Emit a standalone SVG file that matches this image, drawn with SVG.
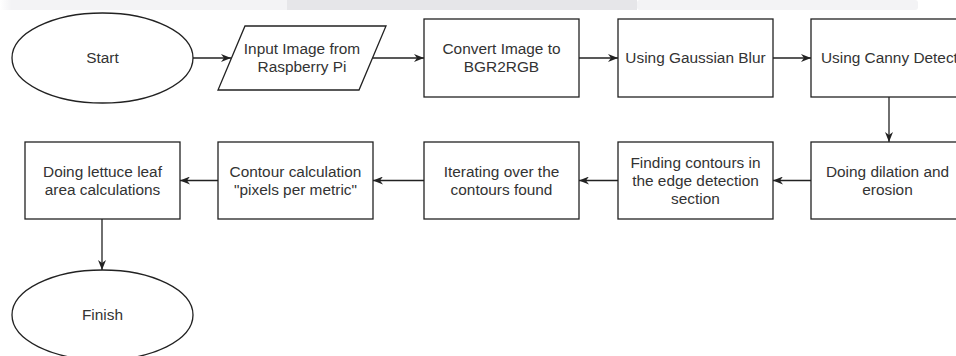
<svg xmlns="http://www.w3.org/2000/svg" width="956" height="356" viewBox="0 0 956 356">
  <style>
    .shape { fill: #ffffff; stroke: #222222; stroke-width: 1.3; }
    .edge { fill: none; stroke: #222222; stroke-width: 1.3; }
    .label { font-family: "Liberation Sans", Arial, sans-serif; font-size: 15.4px; fill: #333333; text-anchor: middle; }
  </style>
  <defs>
    <marker id="arrow" viewBox="0 0 10 8" markerWidth="10" markerHeight="8" refX="10" refY="4" orient="auto" markerUnits="userSpaceOnUse">
      <path d="M0,0 L10,4 L0,8 L3,4 Z" fill="#222222"/>
    </marker>
    <linearGradient id="bandFade" x1="0" y1="0" x2="1" y2="0">
      <stop offset="0" stop-color="#f3f3f5" stop-opacity="0"/>
      <stop offset="0.04" stop-color="#f3f3f5" stop-opacity="1"/>
      <stop offset="1" stop-color="#f3f3f5" stop-opacity="1"/>
    </linearGradient>
  </defs>

  <rect x="0" y="0" width="956" height="356" fill="#ffffff"/>

  <!-- toolbar strip along the top edge -->
  <g id="top-strip">
    <rect x="0" y="0" width="287" height="10" fill="url(#bandFade)"/>
    <rect x="287" y="0" width="350" height="10" fill="#e6e6e9"/>
    <rect x="637" y="0" width="281" height="10" rx="3" fill="#f3f3f5"/>
  </g>

  <!-- connectors -->
  <g id="connectors">
    <line class="edge" x1="193" y1="58" x2="231" y2="58" marker-end="url(#arrow)"/>
    <line class="edge" x1="373" y1="58" x2="424" y2="58" marker-end="url(#arrow)"/>
    <line class="edge" x1="579" y1="58" x2="618" y2="58" marker-end="url(#arrow)"/>
    <line class="edge" x1="773" y1="58" x2="811" y2="58" marker-end="url(#arrow)"/>
    <line class="edge" x1="889" y1="97" x2="889" y2="142" marker-end="url(#arrow)"/>
    <line class="edge" x1="811" y1="180.5" x2="773" y2="180.5" marker-end="url(#arrow)"/>
    <line class="edge" x1="618" y1="180.5" x2="579" y2="180.5" marker-end="url(#arrow)"/>
    <line class="edge" x1="424" y1="180.5" x2="373" y2="180.5" marker-end="url(#arrow)"/>
    <line class="edge" x1="218" y1="180.5" x2="180" y2="180.5" marker-end="url(#arrow)"/>
    <line class="edge" x1="102" y1="219" x2="102" y2="270" marker-end="url(#arrow)"/>
  </g>

  <!-- top row -->
  <g id="start">
    <ellipse class="shape" cx="102.5" cy="58" rx="90.5" ry="45"/>
    <text class="label" x="102.5" y="63.4">Start</text>
  </g>

  <g id="input-image">
    <polygon class="shape" points="245,26 386,26 359,90 218,90"/>
    <text class="label" x="302" y="54.4">Input Image from</text>
    <text class="label" x="302" y="72.4">Raspberry Pi</text>
  </g>

  <g id="convert-image">
    <rect class="shape" x="424" y="19" width="155" height="78"/>
    <text class="label" x="501.5" y="54.4">Convert Image to</text>
    <text class="label" x="501.5" y="72.4">BGR2RGB</text>
  </g>

  <g id="gaussian-blur">
    <rect class="shape" x="618" y="19" width="155" height="78"/>
    <text class="label" x="695.5" y="63.4">Using Gaussian Blur</text>
  </g>

  <g id="canny-detection">
    <rect class="shape" x="811" y="19" width="155" height="78"/>
    <text class="label" x="821" y="63.4" style="text-anchor: start">Using Canny Detect</text>
  </g>

  <!-- second row -->
  <g id="dilation-erosion">
    <rect class="shape" x="811" y="142" width="155" height="77"/>
    <text class="label" x="887.5" y="176.9">Doing dilation and</text>
    <text class="label" x="887.5" y="194.9">erosion</text>
  </g>

  <g id="finding-contours">
    <rect class="shape" x="618" y="142" width="155" height="77"/>
    <text class="label" x="695.5" y="167.9">Finding contours in</text>
    <text class="label" x="695.5" y="185.9">the edge detection</text>
    <text class="label" x="695.5" y="203.9">section</text>
  </g>

  <g id="iterating-contours">
    <rect class="shape" x="424" y="142" width="155" height="77"/>
    <text class="label" x="501.5" y="176.9">Iterating over the</text>
    <text class="label" x="501.5" y="194.9">contours found</text>
  </g>

  <g id="contour-calculation">
    <rect class="shape" x="218" y="142" width="155" height="77"/>
    <text class="label" x="295.5" y="176.9">Contour calculation</text>
    <text class="label" x="295.5" y="194.9">"pixels per metric"</text>
  </g>

  <g id="leaf-area">
    <rect class="shape" x="25" y="142" width="155" height="77"/>
    <text class="label" x="102.5" y="176.9">Doing lettuce leaf</text>
    <text class="label" x="102.5" y="194.9">area calculations</text>
  </g>

  <g id="finish">
    <ellipse class="shape" cx="102.5" cy="315" rx="90.5" ry="45"/>
    <text class="label" x="102.5" y="320.4">Finish</text>
  </g>
</svg>
